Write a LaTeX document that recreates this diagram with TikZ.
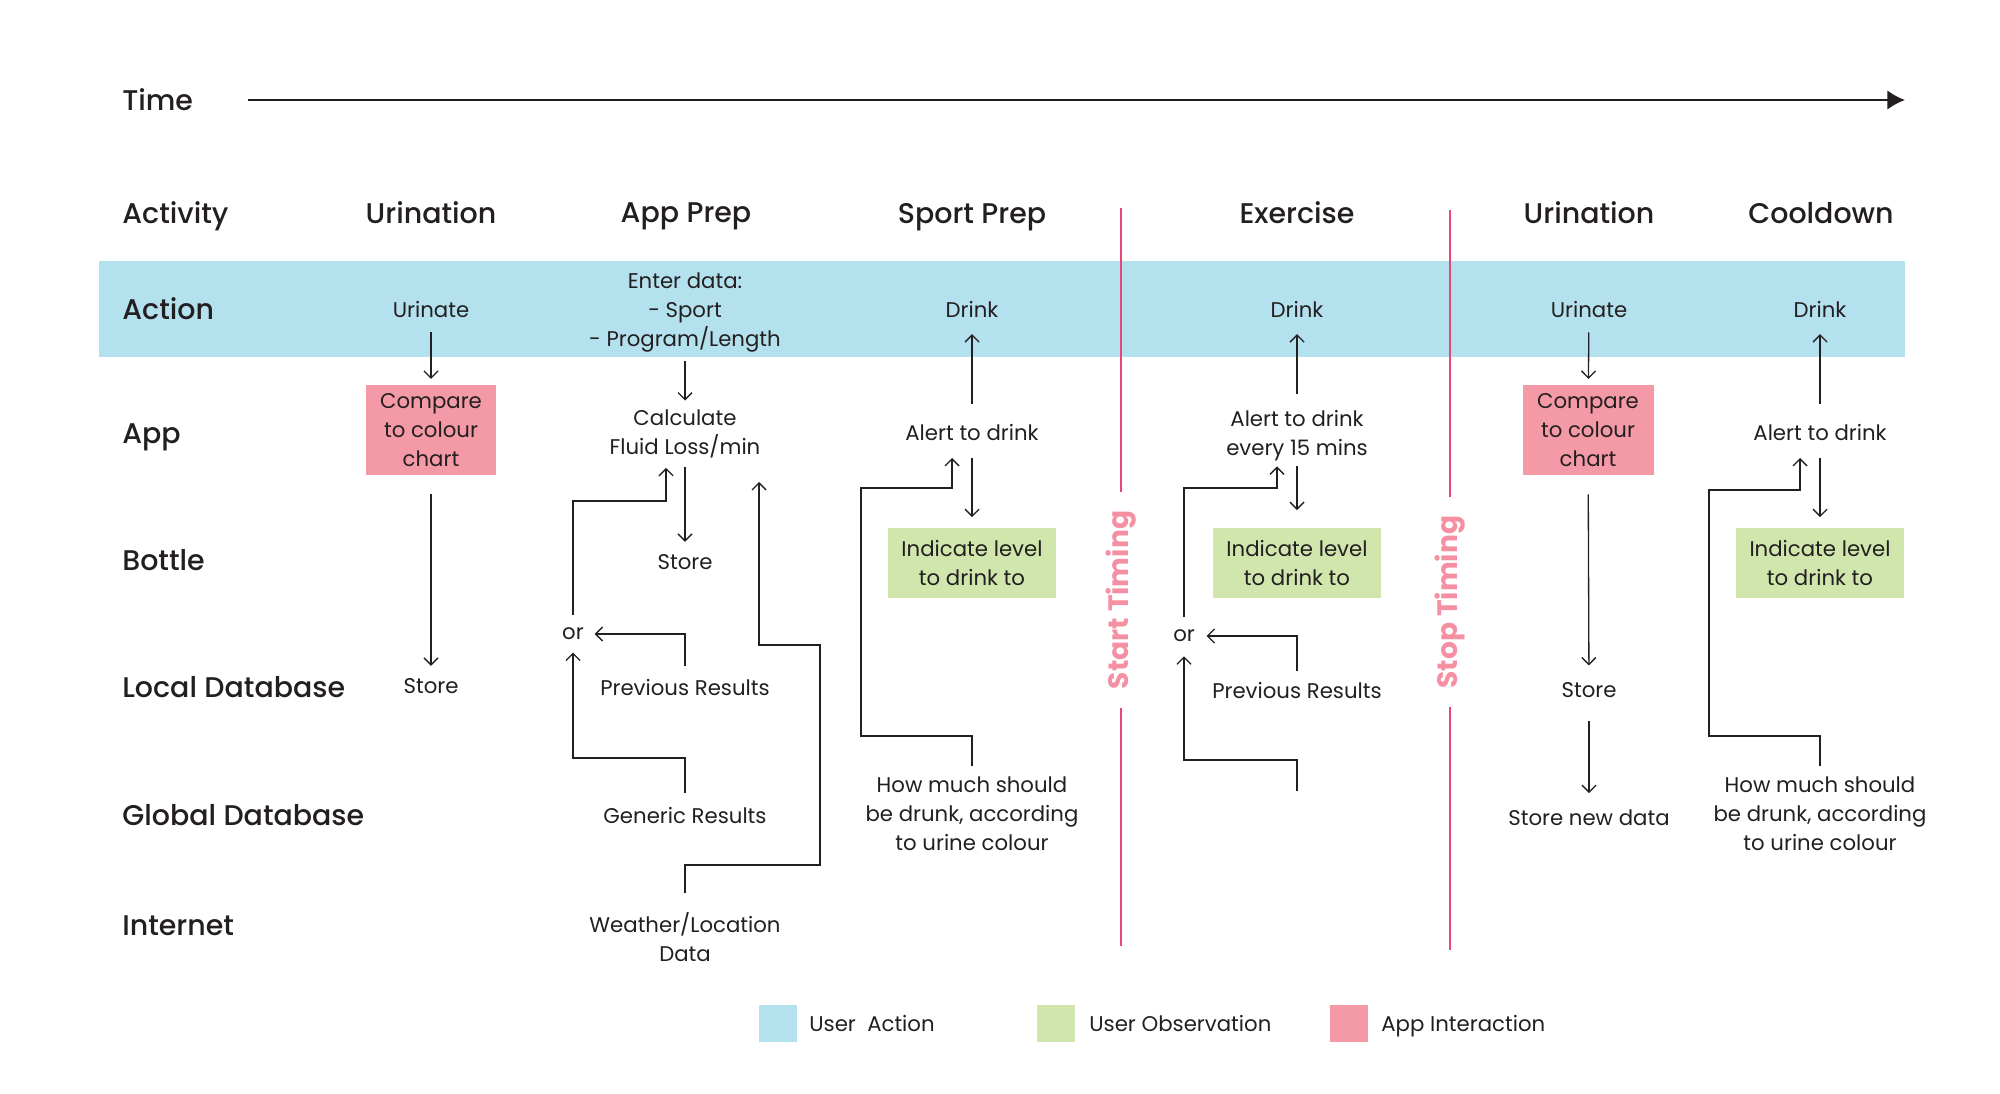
\documentclass[tikz,border=0pt]{standalone}
\usepackage{fontspec}
\setmainfont{Poppins}
\newfontfamily\hdfont{Poppins Medium}
\usetikzlibrary{arrows.meta}
\definecolor{bandblue}{HTML}{B4E1EE}
\definecolor{chartpink}{HTML}{F49AA7}
\definecolor{levelgreen}{HTML}{D0E6AD}
\definecolor{timeline}{HTML}{E8457A}
\definecolor{timetext}{HTML}{F590A3}
\definecolor{ink}{HTML}{231F20}
\begin{document}
\begin{tikzpicture}[x=0.02cm,y=-0.02cm,
    txt/.style={font=\fontsize{12.1}{16.5}\selectfont,text=ink,align=center,inner sep=0pt,text depth=0pt},
    hd/.style={font=\hdfont\fontsize{16.2}{20}\selectfont,text=ink,inner sep=0pt,text depth=0pt},
    row/.style={hd,anchor=west},
    chart/.style={txt,fill=chartpink,minimum width=2.62cm,minimum height=1.82cm},
    level/.style={txt,fill=levelgreen,minimum width=3.36cm,minimum height=1.4cm},
    swatch/.style={minimum width=0.76cm,minimum height=0.74cm,inner sep=0pt},
    flow/.style={draw=ink,line width=0.75pt,-{Straight Barb[length=4pt,width=8pt]}},
    timing/.style={draw=timeline,line width=0.9pt},
    timelabel/.style={font=\bfseries\fontsize{16}{19}\selectfont,text=timetext,inner sep=0pt,rotate=90}]
    \useasboundingbox (0,0) rectangle (2000,1094);
    \fill[bandblue] (99,261) rectangle (1905,357);

    \node[row] (time) at (122,100) {Time};
    \coordinate (tend) at (1905,98);
    \draw[draw=ink,line width=1.2pt,-{Latex[length=10pt,width=11pt]},shorten <=31pt] (time.east) -- (time.east -| tend);

    \node[row] (activity) at (122,213) {Activity};
    \node[row] (action) at (122,309) {Action};
    \node[row] (app) at (122,434) {App};
    \node[row] (bottle) at (122,560) {Bottle};
    \node[row] (localdb) at (122,687) {Local Database};
    \node[row] (globaldb) at (122,815) {Global Database};
    \node[row] (internet) at (122,926) {Internet};

    \node[hd] (urination1) at (431,213) {Urination};
    \node[hd] (appprep) at (686,213) {App Prep};
    \node[hd] (sportprep) at (972,213) {Sport Prep};
    \node[hd] (exercise) at (1297,213) {Exercise};
    \node[hd] (urination5) at (1589,213) {Urination};
    \node[hd] (cooldown) at (1821,213) {Cooldown};

    \node[timelabel] (starttime) at (1121,600) {Start Timing};
    \coordinate (sttop) at (1121,208);
    \coordinate (stbot) at (1121,946);
    \draw[timing,shorten >=10.5pt] (sttop) -- (starttime);
    \draw[timing,shorten >=10.5pt] (stbot) -- (starttime);
    \node[timelabel] (stoptime) at (1450,602) {Stop Timing};
    \coordinate (sptop) at (1450,210);
    \coordinate (spbot) at (1450,950);
    \draw[timing,shorten >=10.5pt] (sptop) -- (stoptime);
    \draw[timing,shorten >=10.5pt] (spbot) -- (stoptime);

    \node[txt] (urinate1) at (431,309) {Urinate};
    \node[chart] (chart1) at (431,430) {Compare\\to colour\\chart};
    \node[txt] (store1) at (431,686) {Store};
    \draw[flow,shorten <=8.5pt,shorten >=3pt] (urinate1) -- (chart1);
    \draw[flow,shorten <=10.5pt,shorten >=7pt] (chart1) -- (store1);

    \node[txt] (enter2) at (685,310) {Enter data:\\- Sport\\- Program/Length};
    \node[txt] (calc2) at (685,432) {Calculate\\Fluid Loss/min};
    \node[txt] (store2) at (685,562) {Store};
    \node[txt] (or2) at (573,634) {or};
    \node[txt] (prev2) at (685,687) {Previous Results};
    \node[txt] (generic2) at (685,815) {Generic Results};
    \node[txt] (weather2) at (685,937) {Weather/Location\\Data};
    \draw[flow,shorten <=8pt,shorten >=5pt] (enter2) -- (calc2);
    \draw[flow,shorten <=7pt,shorten >=7pt] (calc2) -- (store2);
    \coordinate (oa2) at (666,501);
    \draw[flow,shorten <=7pt,shorten >=7.5pt] (or2) |- (oa2) -- (oa2 |- calc2.south);
    \draw[flow,shorten <=7pt,shorten >=6pt] (prev2) |- (or2);
    \coordinate (ga2) at (573,758);
    \draw[flow,shorten <=8pt,shorten >=7pt] (generic2) |- (ga2) -- (or2);
    \coordinate (wa2) at (820,865);
    \coordinate (wb2) at (759,645);
    \coordinate (wtip2) at (759,482);
    \draw[flow,shorten <=11pt] (weather2) |- (wa2) |- (wb2) -- (wtip2);

    \node[txt] (drink3) at (972,309) {Drink};
    \node[txt] (alert3) at (972,432) {Alert to drink};
    \node[level] (level3) at (972,563) {Indicate level\\to drink to};
    \node[txt] (howmuch3) at (972,814) {How much should\\be drunk, according\\to urine colour};
    \draw[flow,shorten <=11pt,shorten >=9.5pt] (alert3) -- (drink3);
    \draw[flow,shorten <=10pt,shorten >=6pt] (alert3) -- (level3);
    \coordinate (ha3) at (861,736);
    \coordinate (hb3) at (952,488);
    \draw[flow,shorten <=6pt,shorten >=10pt] (howmuch3) |- (ha3) |- (hb3) -- (hb3 |- alert3.south);

    \node[txt] (drink4) at (1297,309) {Drink};
    \node[txt] (alert4) at (1297,433) {Alert to drink\\every 15 mins};
    \node[level] (level4) at (1297,563) {Indicate level\\to drink to};
    \node[txt] (or4) at (1184,636) {or};
    \node[txt] (prev4) at (1297,690) {Previous Results};
    \coordinate (foot4) at (1297,791);
    \draw[flow,shorten <=9pt,shorten >=9.5pt] (alert4) -- (drink4);
    \draw[flow,shorten <=6pt,shorten >=10pt] (alert4) -- (level4);
    \coordinate (oa4) at (1277,488);
    \draw[flow,shorten <=7pt,shorten >=6pt] (or4) |- (oa4) -- (oa4 |- alert4.south);
    \draw[flow,shorten <=6pt,shorten >=6.5pt] (prev4) |- (or4);
    \coordinate (fa4) at (1184,760);
    \draw[flow,shorten >=8pt] (foot4) |- (fa4) -- (or4);

    \node[txt] (urinate5) at (1589,309) {Urinate};
    \node[chart] (chart5) at (1588,430) {Compare\\to colour\\chart};
    \node[txt] (store5) at (1589,690) {Store};
    \node[txt] (newdata5) at (1589,818) {Store new data};
    \draw[flow,shorten <=8.5pt,shorten >=3pt] (urinate5) -- (chart5);
    \draw[flow,shorten <=10.5pt,shorten >=9.5pt] (chart5) -- (store5);
    \draw[flow,shorten <=13pt,shorten >=9.5pt] (store5) -- (newdata5);

    \node[txt] (drink6) at (1820,309) {Drink};
    \node[txt] (alert6) at (1820,432) {Alert to drink};
    \node[level] (level6) at (1820,563) {Indicate level\\to drink to};
    \node[txt] (howmuch6) at (1820,814) {How much should\\be drunk, according\\to urine colour};
    \draw[flow,shorten <=11pt,shorten >=9.5pt] (alert6) -- (drink6);
    \draw[flow,shorten <=10pt,shorten >=6pt] (alert6) -- (level6);
    \coordinate (ha6) at (1709,736);
    \coordinate (hb6) at (1800,490);
    \draw[flow,shorten <=6pt,shorten >=10pt] (howmuch6) |- (ha6) |- (hb6) -- (hb6 |- alert6.south);

    \node[swatch,fill=bandblue] (keyaction) at (778,1023) {};
    \node[txt,anchor=west] (keyactiontext) at (809,1023) {User\ \ Action};
    \node[swatch,fill=levelgreen] (keyobs) at (1056,1023) {};
    \node[txt,anchor=west] (keyobstext) at (1089,1023) {User Observation};
    \node[swatch,fill=chartpink] (keyapp) at (1349,1023) {};
    \node[txt,anchor=west] (keyapptext) at (1381,1023) {App Interaction};
\end{tikzpicture}
\end{document}
